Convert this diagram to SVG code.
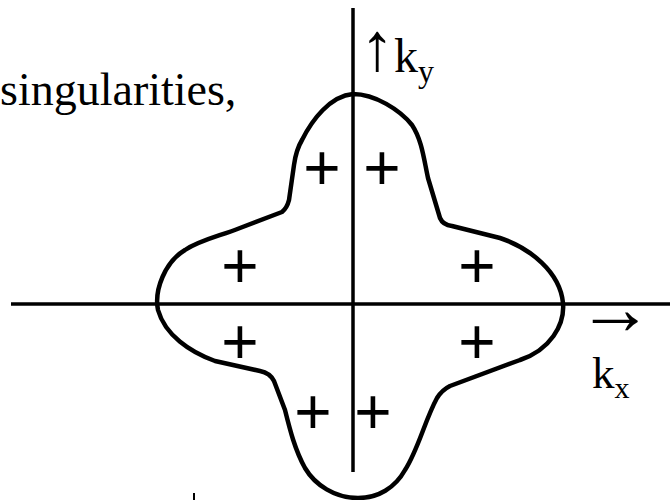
<svg xmlns="http://www.w3.org/2000/svg" width="670" height="500" viewBox="0 0 670 500">
<style>
.t{font-family:"Liberation Serif","Times New Roman",serif;fill:#000}
.a{font-family:"Liberation Serif","Times New Roman",serif;fill:#000;text-anchor:middle}
.p{font-family:"Liberation Sans",Arial,sans-serif;font-size:64px;fill:#000;text-anchor:middle}
.ax{stroke:#000;stroke-width:3.5;fill:none}
.cv{stroke:#000;stroke-width:4.5;fill:none;stroke-linejoin:round}
</style>
<rect width="670" height="500" fill="#fff"/>
<g id="label-text"><text class="t" x="0" y="105" font-size="46">singularities,</text></g>
<g id="connectors">
<line class="ax" x1="353" y1="8" x2="353" y2="472"/>
<line class="ax" x1="11" y1="304" x2="670" y2="304"/>
<line class="ax" x1="194" y1="493" x2="194" y2="500" style="stroke-width:2"/>
</g>
<g id="curve">
<path class="cv" d="M353,94 C375,94 400,110 412,125 C422,140 424,160 428,178 L440,218 Q443,225 452,226 L500,238 C530,248 560,272 563,303 C565,325 550,350 520,360 L450,386 Q442,390 437,398 C425,420 418,450 405,470 C395,488 378,498 358,498 C335,498 315,485 305,468 C295,450 290,430 285,410 L274,381 Q270,373 260,371 L215,361 C190,352 165,335 158,310 C154,290 165,262 185,250 C200,240 220,236 240,228 L282,212 Q287,208 289,200 L294,165 Q296,150 302,140 C312,120 330,96 353,94 Z"/>
</g>
<g id="plus-signs">
<text class="p" x="322" y="190">+</text>
<text class="p" x="382" y="190">+</text>
<text class="p" x="240" y="288">+</text>
<text class="p" x="477" y="288">+</text>
<text class="p" x="240" y="364">+</text>
<text class="p" x="477" y="364">+</text>
<text class="p" x="313" y="434">+</text>
<text class="p" x="373" y="434">+</text>
</g>
<g id="ky-label">
<text class="t" x="360" y="70"><tspan font-size="68">↑</tspan><tspan font-size="48" dy="2">k</tspan><tspan font-size="32" dy="10">y</tspan></text>
</g>
<g id="kx-label">
<text class="a" x="615" y="334" font-size="76">→</text>
<text class="t" x="592" y="388" font-size="45">k<tspan font-size="30" dy="10">x</tspan></text>
</g>
</svg>
